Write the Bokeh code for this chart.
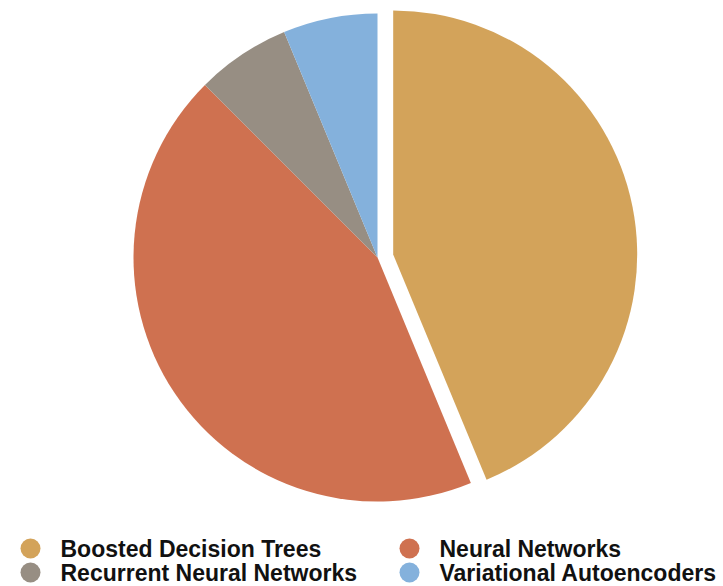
import math
from bokeh.plotting import figure
from bokeh.models import Range1d
from bokeh.core.properties import value
from bokeh.embed import file_html
from bokeh.resources import INLINE

# data
categories = ["Boosted Decision Trees", "Neural Networks", "Recurrent Neural Networks", "Variational Autoencoders"]
values = [7, 7, 1, 1]
colors = ["#D3A35A", "#CF7150", "#978E83", "#84B1DC"]
explode = [16, 0, 0, 0]

W, H = 723, 586
p = figure(width=W, height=H, output_backend="svg", toolbar_location=None,
           x_range=Range1d(0, W), y_range=Range1d(0, H), min_border=0)
p.axis.visible = False
p.grid.visible = False
p.outline_line_color = None
p.background_fill_color = "white"

cx, cy, r = 377, 586 - 257, 244
total = float(sum(values))
cum = 0.0
for v, c, ex in zip(values, colors, explode):
    start = math.pi / 2 - cum / total * 2 * math.pi
    end = math.pi / 2 - (cum + v) / total * 2 * math.pi
    mid = (start + end) / 2
    x = cx + ex * math.cos(mid)
    y = cy + ex * math.sin(mid)
    p.wedge(x=x, y=y, radius=r, start_angle=start, end_angle=end,
            direction="clock", fill_color=c, line_color=None)
    cum += v

# legend (2 columns)
col_x = [30, 409]
row_y = [586 - 548, 586 - 572]
for i, (name, c) in enumerate(zip(categories, colors)):
    lx = col_x[i % 2]
    ly = row_y[i // 2]
    p.scatter(x=[lx], y=[ly], size=20, marker="circle", fill_color=c, line_color=None)
    p.text(x=[lx + 30], y=[ly], text=[name], text_font=value("Liberation Sans"),
           text_font_style="bold", text_font_size="23px", text_baseline="middle",
           text_align="left", text_color="#111111")

open("out.html", "w").write(file_html(p, INLINE))
